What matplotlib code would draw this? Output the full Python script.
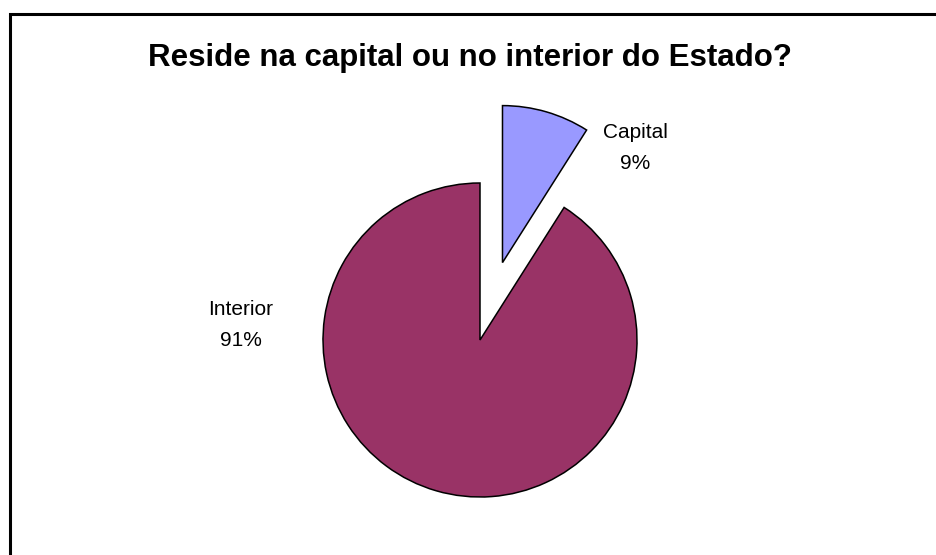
import matplotlib.pyplot as plt
from matplotlib.patches import Rectangle

plt.rcParams['font.family'] = ['Liberation Sans', 'DejaVu Sans']

title = 'Reside na capital ou no interior do Estado?'
labels = ['Capital', 'Interior']
values = [9, 91]
colors = ['#9999FF', '#993366']

# pie drawn in pixel units: centre, radius, and how far the Capital slice is pulled out
center = (480, 215)
radius = 157
explode = [80.6, 0]

fig = plt.figure(figsize=(9.37, 5.55), dpi=100)
ax = fig.add_axes([0, 0, 1, 1])

# chart frame (left and top edges show, the rest runs off the image)
ax.add_patch(Rectangle((10.5, -20), 960, 561.5, fill=False,
                       edgecolor='black', linewidth=2.2, zorder=0))

wedges, _ = ax.pie(values, colors=colors, explode=explode, startangle=90,
                   counterclock=False, center=center, radius=radius,
                   wedgeprops=dict(edgecolor='black', linewidth=1.1),
                   frame=True)
ax.set_xlim(0, 937)
ax.set_ylim(0, 555)
ax.set_aspect('auto')
ax.axis('off')

total = sum(values)
label_pos = [(635, 407), (241, 230)]
for lab, v, (x, y) in zip(labels, values, label_pos):
    ax.text(x, y, '%s\n%d%%' % (lab, round(100 * v / total)),
            ha='center', va='center', fontsize=15, linespacing=1.75)

ax.text(470, 497, title, ha='center', va='center',
        fontsize=22.5, fontweight='bold')

fig.savefig('out.png', dpi=100)
